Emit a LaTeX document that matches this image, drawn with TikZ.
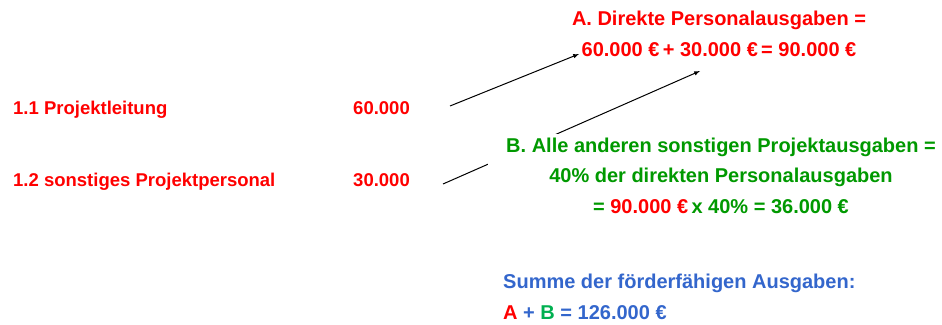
\documentclass[tikz,border=0pt]{standalone}
\usepackage{fontspec}
\setmainfont{Liberation Sans}
\usetikzlibrary{positioning}
\definecolor{rotA}{RGB}{255,0,0}
\definecolor{gruenB}{RGB}{0,153,0}
\definecolor{gruenSum}{RGB}{0,176,80}
\definecolor{blauSum}{RGB}{51,102,204}

\begin{document}
\begin{tikzpicture}[x=1pt, y=-1pt, >=latex,
    every node/.style={font=\bfseries\fontsize{18.5}{30.5}\selectfont, inner sep=0pt},
    posten/.style={text=rotA, anchor=base west},
    betrag/.style={text=rotA, anchor=base east},
    block/.style={font=\bfseries\fontsize{20}{30.5}\selectfont},
    pfeil/.style={->, line width=1pt}]
    \useasboundingbox (0,0) rectangle (942,324);

    % Kostenpositionen links
    \node[posten] (p1) at (13,114) {1.1 Projektleitung};
    \node[betrag] (b1) at (410,114) {60.000};
    \node[posten] (p2) at (13,186) {1.2 sonstiges Projektpersonal};
    \node[betrag] (b2) at (410,186) {30.000};

    % A: direkte Personalausgaben
    \node[block, text=rotA, align=center, anchor=base] (summeA) at (719,56)
        {A. Direkte Personalausgaben =\\60.000 €\,+ 30.000 €\,= 90.000 €};

    % Pfeile von den Betraegen nach A
    \coordinate (s1) at (450,106);
    \coordinate (z1) at (579,54);
    \coordinate (s2) at (443,184);
    \coordinate (z2) at (700,71);
    \draw[pfeil] (s1) -- (z1);
    \draw[pfeil] (s2) -- (z2);

    % B: sonstige Projektausgaben (ueberdeckt den zweiten Pfeil)
    \node[block, text=gruenB, align=center, anchor=base, fill=white,
          inner xsep=18pt, inner ysep=4pt] (summeB) at (721,213)
        {B. Alle anderen sonstigen Projektausgaben =\\
         40\% der direkten Personalausgaben\\
         = \textcolor{rotA}{90.000 €}\,x 40\% = 36.000 €};

    % Summe
    \node[block, text=blauSum, align=left, anchor=base west] (summe) at (503,319)
        {Summe der förderfähigen Ausgaben:\\
         \textcolor{rotA}{A} + \textcolor{gruenSum}{B} = 126.000 €};
\end{tikzpicture}
\end{document}
